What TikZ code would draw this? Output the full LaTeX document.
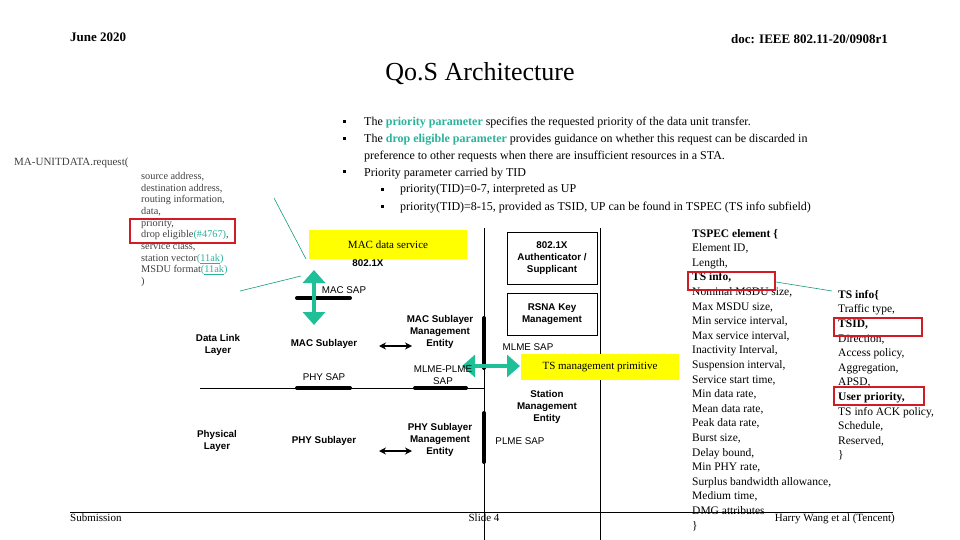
\documentclass[tikz,border=0pt]{standalone}
\usepackage{fontspec}
\setmainfont{Liberation Serif}
\setsansfont{Liberation Sans}
\usetikzlibrary{arrows.meta}
\definecolor{teal1}{HTML}{1FBF98}
\definecolor{grn}{HTML}{2BB39A}
\definecolor{boxred}{HTML}{D01C24}
\definecolor{ylw}{HTML}{FFFF00}
\begin{document}
\begin{tikzpicture}[x=1pt,y=-1pt,
  t/.style={inner sep=0pt,anchor=base west,font=\fontsize{12}{14}\selectfont},
  lst/.style={inner sep=0pt,anchor=north west,align=left,font=\fontsize{11.5}{14.6}\selectfont},
  sm/.style={inner sep=0pt,align=center,font=\sffamily\bfseries\fontsize{9.8}{12}\selectfont},
  smn/.style={inner sep=0pt,align=center,font=\sffamily\fontsize{9.8}{12}\selectfont},
  redbox/.style={draw=boxred,line width=2pt},
  ylwbox/.style={fill=ylw,inner sep=0pt,font=\fontsize{11}{13}\selectfont},
  sap/.style={line width=4pt,line cap=round},
  garrow/.style={draw=teal1,line width=4pt,{Triangle[length=13pt,width=22pt]}-{Triangle[length=13pt,width=22pt]}},
  barrow/.style={line width=1.2pt,{Stealth[length=7pt,width=7pt]}-{Stealth[length=7pt,width=7pt]}},
  thin/.style={draw=teal1!80!black,line width=0.6pt}]
\useasboundingbox (0,0) rectangle (960,540);
% header
\node[inner sep=0pt,anchor=base west,font=\bfseries\fontsize{13}{15}\selectfont] (hd1) at (70,42) {June 2020};
\node[inner sep=0pt,anchor=base east,font=\bfseries\fontsize{13}{15}\selectfont] (hd2) at (888,44) {doc: IEEE 802.11-20/0908r1};
\node[inner sep=0pt,anchor=base,font=\fontsize{26}{30}\selectfont] (title) at (480,81) {Qo.S Architecture};
% bullets
\foreach \y/\x in {126/343,143/343,176/343,193/381,210/381}
  \fill (\x,\y-5.5) rectangle (\x+3,\y-2.5);
\node[t] (b1) at (364,126) {The \textcolor{grn}{\bfseries priority parameter} specifies the requested priority of the data unit transfer.};
\node[t] (b2) at (364,143) {The \textcolor{grn}{\bfseries drop eligible parameter} provides guidance on whether this request can be discarded in};
\node[t] (b2b) at (364,160) {preference to other requests when there are insufficient resources in a STA.};
\node[t] (b3) at (364,176) {Priority parameter carried by TID};
\node[t] (b4) at (400,193) {priority(TID)=0-7, interpreted as UP};
\node[t] (b5) at (400,210) {priority(TID)=8-15, provided as TSID, UP can be found in TSPEC (TS info subfield)};
% left screenshot
\node[inner sep=0pt,anchor=base west,text=black!75,font=\fontsize{11}{12}\selectfont] (ma) at (14,166) {MA-UNITDATA.request(};
\node[inner sep=0pt,anchor=north west,align=left,text=black!75,font=\fontsize{10.3}{11.7}\selectfont] (params) at (141,172)
 {source address,\\destination address,\\routing information,\\data,\\priority,\\drop eligible\textcolor{grn}{(\#4767)},\\service class,\\station vector\textcolor{grn}{(\underline{11ak})}\\MSDU format\textcolor{grn}{(\underline{11ak})}\\)};
\draw[redbox] (130,219) rectangle (235,243);
% diagram
\node[ylwbox,minimum width=158pt,minimum height=29pt] (mds) at (388,244.5) {MAC data service};
\node[sm] (x8021) at (368,263) {802.1X};
\draw[thin] (274,198) -- (306,259);
\draw[thin] (240,291) -- (301,276);
\coordinate (msL) at (297,298); \coordinate (msR) at (350,298);
\draw[sap] (msL) -- (msR);
\node[smn] (macsap) at (344,290) {MAC SAP};
\coordinate (ga1) at (314,270); \coordinate (ga2) at (314,325);
\draw[garrow] (ga1) -- (ga2);
\node[sm] (dll) at (218,345) {Data Link\\Layer};
\node[sm] (macsub) at (324,344) {MAC Sublayer};
\coordinate (a1L) at (379,346); \coordinate (a1R) at (412,346);
\draw[barrow] (a1L) -- (a1R);
\node[sm] (mlme) at (440,332) {MAC Sublayer\\Management\\Entity};
\coordinate (v1t) at (484,228); \coordinate (v1b) at (484,540);
\coordinate (v2t) at (600,228); \coordinate (v2b) at (600,540);
\draw[line width=0.8pt] (v1t) -- (v1b);
\draw[line width=0.8pt] (v2t) -- (v2b);
\node[sm,draw,line width=0.8pt,minimum width=90pt,minimum height=52pt] (auth) at (552,258) {802.1X\\Authenticator /\\Supplicant};
\node[sm,draw,line width=0.8pt,minimum width=90pt,minimum height=42pt] (rsna) at (552,314) {RSNA Key\\Management};
\coordinate (s1t) at (484,318); \coordinate (s1b) at (484,368);
\draw[sap] (s1t) -- (s1b);
\coordinate (s2t) at (484,413); \coordinate (s2b) at (484,462);
\draw[sap] (s2t) -- (s2b);
\node[smn] (mlmesap) at (528,347) {MLME SAP};
\coordinate (gh1) at (462,366); \coordinate (gh2) at (520,366);
\draw[garrow] (gh1) -- (gh2);
\node[ylwbox,minimum width=158pt,minimum height=26pt] (tsm) at (600,367) {TS management primitive};
\coordinate (hlL) at (200,388); \coordinate (hlR) at (484,388);
\draw[line width=0.8pt] (hlL) -- (hlR);
\coordinate (psL) at (297,388); \coordinate (psR) at (350,388);
\draw[sap] (psL) -- (psR);
\node[smn] (physap) at (324,377) {PHY SAP};
\coordinate (mpL) at (415,388); \coordinate (mpR) at (466,388);
\draw[sap] (mpL) -- (mpR);
\node[smn] (mpsap) at (443,375) {MLME-PLME\\SAP};
\node[sm] (sme) at (547,407) {Station\\Management\\Entity};
\node[sm] (phl) at (217,441) {Physical\\Layer};
\node[sm] (physub) at (324,441) {PHY Sublayer};
\coordinate (a2L) at (379,451); \coordinate (a2R) at (412,451);
\draw[barrow] (a2L) -- (a2R);
\node[sm] (plmeE) at (440,440) {PHY Sublayer\\Management\\Entity};
\node[smn] (plmesap) at (520,441) {PLME SAP};
% TSPEC
\node[lst] (tspec) at (692,229) {\textbf{TSPEC element \{}\\Element ID,\\Length,\\\textbf{TS info,}\\Nominal MSDU size,\\Max MSDU size,\\Min service interval,\\Max service interval,\\Inactivity Interval,\\Suspension interval,\\Service start time,\\Min data rate,\\Mean data rate,\\Peak data rate,\\Burst size,\\Delay bound,\\Min PHY rate,\\Surplus bandwidth allowance,\\Medium time,\\DMG attributes\\\}};
\node[lst] (tsinfo) at (838,290) {\textbf{TS info\{}\\Traffic type,\\\textbf{TSID,}\\Direction,\\Access policy,\\Aggregation,\\APSD,\\\textbf{User priority,}\\TS info ACK policy,\\Schedule,\\Reserved,\\\}};
\draw[redbox] (688,272) rectangle (775,290);
\draw[redbox] (834,318) rectangle (922,336);
\draw[redbox] (834,387) rectangle (924,405);
\draw[thin] (776,282) -- (832,291);
% footer
\coordinate (fL) at (70,512); \coordinate (fR) at (893,512);
\draw[line width=1pt] (fL) -- (fR);
\node[inner sep=0pt,anchor=base west,font=\fontsize{11}{13}\selectfont] (sub) at (70,521) {Submission};
\node[inner sep=0pt,anchor=base,font=\fontsize{11}{13}\selectfont] (slide) at (484,521) {Slide 4};
\node[inner sep=0pt,anchor=base east,font=\fontsize{11}{13}\selectfont] (auth2) at (895,521) {Harry Wang et al (Tencent)};
\end{tikzpicture}
\end{document}
